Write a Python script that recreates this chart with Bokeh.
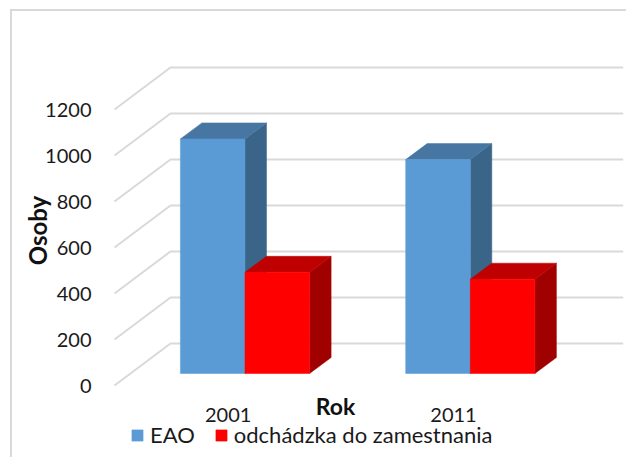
from bokeh.plotting import figure
from bokeh.models import Range1d, FixedTicker, Legend, LegendItem, Label
from bokeh.embed import file_html
from bokeh.resources import INLINE

categories = ["2001", "2011"]
series_names = ["EAO", "odchádzka do zamestnania"]
eao = [1020, 930]
commute = [440, 410]
y_ticks = [0, 200, 400, 600, 800, 1000, 1200]

FONT = "Lato"
GRID = "#d9d9d9"
ORIGIN_X, ORIGIN_Y = 12, 11        # figure corner in page px (inside its border)
W, H = 628 - ORIGIN_X, 459 - ORIGIN_Y
X_PER_CAT = 225.3
Y_PER_UNIT = 0.23
FRAME_L, FRAME_R = 108, 628        # page px
FRAME_T, FRAME_B = 11, 449
CAT0_PX = 227.7                    # page px of first category tick
ZERO_PX = 385                      # page px of value 0 on the front plane


def xu(px):
    return (px - CAT0_PX) / X_PER_CAT


def yu(px):
    return (ZERO_PX - px) / Y_PER_UNIT


p = figure(width=W, height=H, output_backend="svg", toolbar_location=None,
           x_range=Range1d(xu(FRAME_L), xu(FRAME_R)),
           y_range=Range1d(yu(FRAME_B), yu(FRAME_T)),
           min_border_left=FRAME_L - ORIGIN_X, min_border_right=0, min_border_top=0,
           min_border_bottom=459 - FRAME_B, outline_line_color=None,
           background_fill_color="white", border_fill_color="white",
           margin=(9, 0, 0, 10),
           styles={"border-top": f"2px solid {GRID}", "border-left": f"2px solid {GRID}"})
p.grid.visible = False

# axes
for ax in (p.xaxis[0], p.yaxis[0]):
    ax.axis_line_color = None
    ax.major_tick_line_color = None
    ax.minor_tick_line_color = None
    ax.major_tick_in = 0
    ax.major_tick_out = 0
    ax.minor_tick_in = 0
    ax.minor_tick_out = 0
    ax.major_label_text_font = FONT
    ax.major_label_text_font_size = "20px"
    ax.major_label_text_color = "#1a1a1a"
p.yaxis[0].ticker = FixedTicker(ticks=y_ticks)
p.yaxis[0].major_label_standoff = 17
p.yaxis[0].axis_label = "Osoby"
p.yaxis[0].axis_label_text_font = FONT
p.yaxis[0].axis_label_text_font_style = "bold"
p.yaxis[0].axis_label_text_font_size = "24px"
p.yaxis[0].axis_label_text_color = "#111111"
p.yaxis[0].axis_label_standoff = -10
p.xaxis[0].ticker = FixedTicker(ticks=list(range(len(categories))))
p.xaxis[0].major_label_overrides = {i: c for i, c in enumerate(categories)}
p.xaxis[0].major_label_standoff = -42

# perspective floor/wall gridlines
DEPTH_X = 56 / X_PER_CAT
DEPTH_Y = 42 / Y_PER_UNIT
x_front, x_end = xu(114), xu(622.7)
p.multi_line(xs=[[x_front, x_front + DEPTH_X, x_end] for _ in y_ticks],
             ys=[[v, v + DEPTH_Y, v + DEPTH_Y] for v in y_ticks],
             line_color=GRID, line_width=2)

# 3D bars
BAR_W = 64.6 / X_PER_CAT
BAR_DX = 21.5 / X_PER_CAT
BAR_DY = 16 / Y_PER_UNIT
BASE = 12 / Y_PER_UNIT
BLUE_X0 = 16.8 / X_PER_CAT - BAR_W   # left edge offset of blue bar from tick


def bars(values, left_offset, front, top_c, side_c):
    lefts = [i + left_offset for i in range(len(values))]
    rights = [l + BAR_W for l in lefts]
    tops = [BASE + v for v in values]
    p.patches(xs=[[r, r + BAR_DX, r + BAR_DX, r] for r in rights],
              ys=[[BASE, BASE + BAR_DY, t + BAR_DY, t] for t in tops],
              fill_color=side_c, line_color=side_c, line_width=0.5)
    p.patches(xs=[[l, l + BAR_DX, r + BAR_DX, r] for l, r in zip(lefts, rights)],
              ys=[[t, t + BAR_DY, t + BAR_DY, t] for t in tops],
              fill_color=top_c, line_color=top_c, line_width=0.5)
    return p.vbar(x=[l + BAR_W / 2 for l in lefts], width=BAR_W, bottom=BASE, top=tops,
                  fill_color=front, line_color=front, line_width=0.5)


r1 = bars(eao, BLUE_X0, "#5b9bd5", "#4776a3", "#3a6488")
r2 = bars(commute, BLUE_X0 + BAR_W, "#ff0000", "#bf0000", "#a00000")

# x-axis title sits between the axis and its labels in the original
p.add_layout(Label(x=xu(335), y=yu(405), text="Rok", text_font=FONT, text_font_style="bold",
                   text_font_size="23px", text_align="center", text_baseline="middle",
                   text_color="#111111"))

# legend
legend = Legend(items=[LegendItem(label=series_names[0], renderers=[r1]),
                       LegendItem(label=series_names[1], renderers=[r2])],
                orientation="horizontal", location=(22, 1), margin=0, padding=0,
                spacing=19, label_standoff=6, glyph_width=14, glyph_height=14,
                label_text_font=FONT, label_text_font_size="22px",
                label_text_color="#1a1a1a", border_line_color=None,
                background_fill_alpha=0, label_height=22)
p.add_layout(legend)

open("out.html", "w").write(file_html(p, INLINE))
